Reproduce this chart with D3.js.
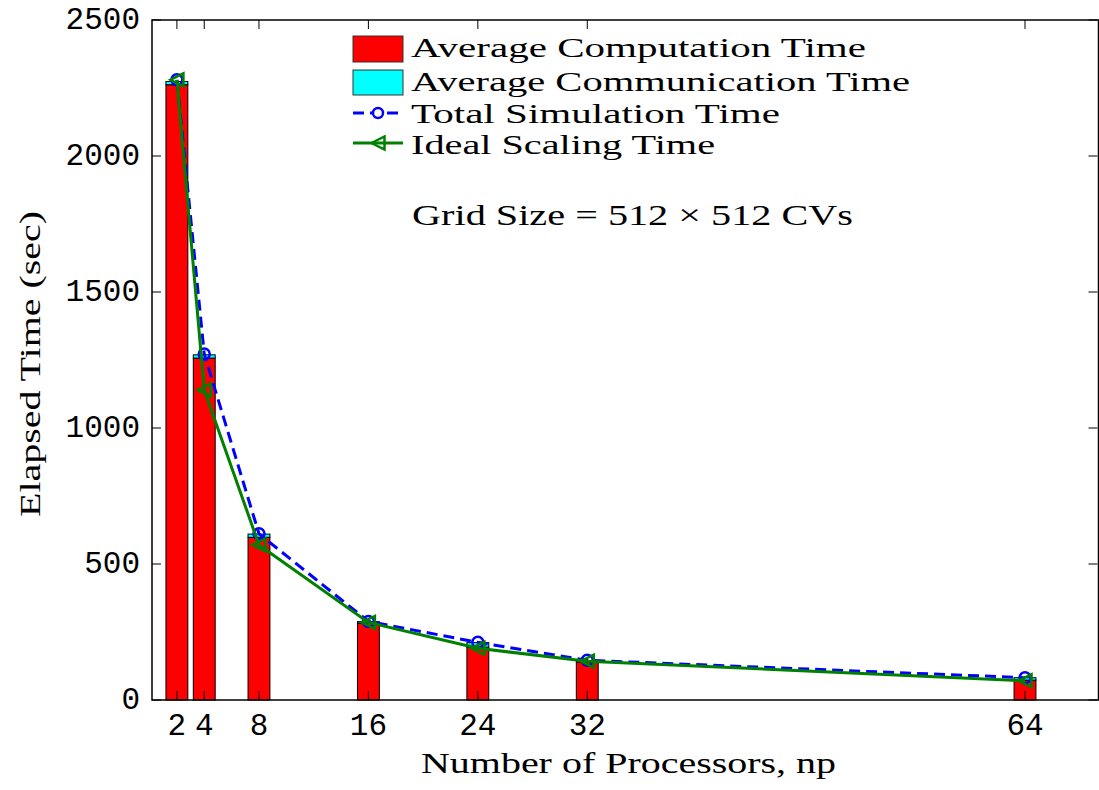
<!DOCTYPE html>
<html>
<head>
<meta charset="utf-8">
<script src="https://cdn.jsdelivr.net/npm/d3@7"></script>
<style>
  html, body { margin: 0; padding: 0; background: #fff; }
  svg { display: block; }
  .tick-label { font-family: "Liberation Mono", "DejaVu Sans Mono", monospace; font-size: 31px; fill: #000; }
  .serif { font-family: "Liberation Serif", "DejaVu Serif", serif; font-size: 30px; fill: #000; }
  .legend-text { font-size: 28px; }
</style>
</head>
<body>
<svg id="chart" width="1099" height="790"></svg>
<script>
// Processor counts and measured timings (seconds)
const processors   = [2, 4, 8, 16, 24, 32, 64];
const computeTime  = [2262, 1257, 598, 283, 194, 140, 73];
const commTime     = [12, 12, 12, 5, 17, 5, 9];
const totalTime    = [2280, 1272, 611, 289, 212, 146, 82];
const idealTime    = [2280, 1140, 570, 285, 190, 142.5, 71];
const yTicks       = [0, 500, 1000, 1500, 2000, 2500];
const legendLabels = ["Average Computation Time", "Average Communication Time",
                      "Total Simulation Time", "Ideal Scaling Time"];
const noteText     = "Grid Size = 512 \u00D7 512 CVs";

(function () {
  const svg = d3.select("#chart");
  const pLeft = 152, pRight = 1097.5, pTop = 20, pBottom = 700;

  const x = d3.scaleLinear().domain([0.18, 69.3]).range([pLeft, pRight]);
  const y = d3.scaleLinear().domain([0, 2500]).range([pBottom, pTop]);
  const barW = x(1.6) - x(0);

  const rows = processors.map((p, i) => ({
    p, comp: computeTime[i], comm: commTime[i], total: totalTime[i], ideal: idealTime[i]
  }));

  // Stacked bars: computation then communication on top
  const bars = svg.append("g");
  bars.selectAll("rect.comp").data(rows).join("rect").attr("class", "comp")
    .attr("x", d => x(d.p) - barW / 2)
    .attr("y", d => y(d.comp))
    .attr("width", barW)
    .attr("height", d => y(0) - y(d.comp))
    .attr("fill", "#ff0000").attr("stroke", "#000").attr("stroke-width", 1);
  bars.selectAll("rect.comm").data(rows).join("rect").attr("class", "comm")
    .attr("x", d => x(d.p) - barW / 2)
    .attr("y", d => y(d.comp + d.comm))
    .attr("width", barW)
    .attr("height", d => y(d.comp) - y(d.comp + d.comm))
    .attr("fill", "#00ffff").attr("stroke", "#000").attr("stroke-width", 1);

  // Total simulation time: dashed blue with open circles
  const line = d3.line().x(d => x(d[0])).y(d => y(d[1]));
  svg.append("path")
    .datum(rows.map(d => [d.p, d.total]))
    .attr("d", line).attr("fill", "none")
    .attr("stroke", "#0000ff").attr("stroke-width", 3).attr("stroke-dasharray", "11,6");
  svg.append("g").selectAll("circle").data(rows).join("circle")
    .attr("cx", d => x(d.p)).attr("cy", d => y(d.total)).attr("r", 5.5)
    .attr("fill", "none").attr("stroke", "#0000ff").attr("stroke-width", 2.5);

  // Ideal scaling: solid green with left-pointing triangles
  const green = "#008000";
  const tri = (cx, cy, s) => `M${cx - s},${cy} L${cx + s},${cy - s} L${cx + s},${cy + s} Z`;
  svg.append("path")
    .datum(rows.map(d => [d.p, d.ideal]))
    .attr("d", line).attr("fill", "none")
    .attr("stroke", green).attr("stroke-width", 3);
  svg.append("g").selectAll("path").data(rows).join("path")
    .attr("d", d => tri(x(d.p), y(d.ideal), 6.5))
    .attr("fill", "none").attr("stroke", green).attr("stroke-width", 2.5);

  // Axes box with inward ticks on all sides
  const axes = svg.append("g");
  axes.append("rect").attr("x", pLeft).attr("y", pTop)
    .attr("width", pRight - pLeft + 1).attr("height", pBottom - pTop)
    .attr("fill", "none").attr("stroke", "#000").attr("stroke-width", 1.5);
  const tl = 9;
  yTicks.forEach(v => {
    axes.append("line").attr("x1", pLeft).attr("x2", pLeft + tl).attr("y1", y(v)).attr("y2", y(v))
      .attr("stroke", "#000").attr("stroke-width", 1);
    axes.append("line").attr("x1", pRight).attr("x2", pRight - tl).attr("y1", y(v)).attr("y2", y(v))
      .attr("stroke", "#000").attr("stroke-width", 1);
    axes.append("text").attr("class", "tick-label")
      .attr("x", 140).attr("y", y(v) + 9).attr("text-anchor", "end").text(v);
  });
  processors.forEach(p => {
    axes.append("line").attr("x1", x(p)).attr("x2", x(p)).attr("y1", pBottom).attr("y2", pBottom - tl)
      .attr("stroke", "#000").attr("stroke-width", 1);
    axes.append("line").attr("x1", x(p)).attr("x2", x(p)).attr("y1", pTop).attr("y2", pTop + tl)
      .attr("stroke", "#000").attr("stroke-width", 1);
    axes.append("text").attr("class", "tick-label")
      .attr("x", x(p)).attr("y", 735).attr("text-anchor", "middle").text(p);
  });

  // Axis titles
  svg.append("text").attr("class", "serif")
    .attr("x", 421).attr("y", 773)
    .attr("textLength", 415).attr("lengthAdjust", "spacingAndGlyphs")
    .text("Number of Processors, np");
  svg.append("text").attr("class", "serif")
    .attr("transform", "translate(40,517) rotate(-90)")
    .attr("textLength", 306).attr("lengthAdjust", "spacingAndGlyphs")
    .text("Elapsed Time (sec)");

  // Annotation
  svg.append("text").attr("class", "serif")
    .attr("x", 412).attr("y", 225)
    .attr("textLength", 441).attr("lengthAdjust", "spacingAndGlyphs")
    .text(noteText);

  // Legend
  const lg = svg.append("g");
  const sx = 353, sw = 50, tx = 411;
  const textW = [455, 499, 369, 304];
  const baseY = [57, 91, 123, 154];
  lg.append("rect").attr("x", sx).attr("y", 36).attr("width", sw).attr("height", 26)
    .attr("fill", "#ff0000").attr("stroke", "#333").attr("stroke-width", 1);
  lg.append("rect").attr("x", sx).attr("y", 70).attr("width", sw).attr("height", 25)
    .attr("fill", "#00ffff").attr("stroke", "#333").attr("stroke-width", 1);
  lg.append("line").attr("x1", sx).attr("x2", sx + sw).attr("y1", 113).attr("y2", 113)
    .attr("stroke", "#0000ff").attr("stroke-width", 3).attr("stroke-dasharray", "11,6");
  lg.append("circle").attr("cx", sx + sw / 2).attr("cy", 113).attr("r", 5)
    .attr("fill", "#fff").attr("stroke", "#0000ff").attr("stroke-width", 2.5);
  lg.append("line").attr("x1", sx).attr("x2", sx + sw).attr("y1", 143).attr("y2", 143)
    .attr("stroke", green).attr("stroke-width", 3);
  lg.append("path").attr("d", tri(sx + sw / 2, 143, 6.5))
    .attr("fill", "none").attr("stroke", green).attr("stroke-width", 2.5);
  legendLabels.forEach((t, i) => {
    lg.append("text").attr("class", "serif legend-text")
      .attr("x", tx).attr("y", baseY[i])
      .attr("textLength", textW[i]).attr("lengthAdjust", "spacingAndGlyphs")
      .text(t);
  });
})();
</script>
</body>
</html>
